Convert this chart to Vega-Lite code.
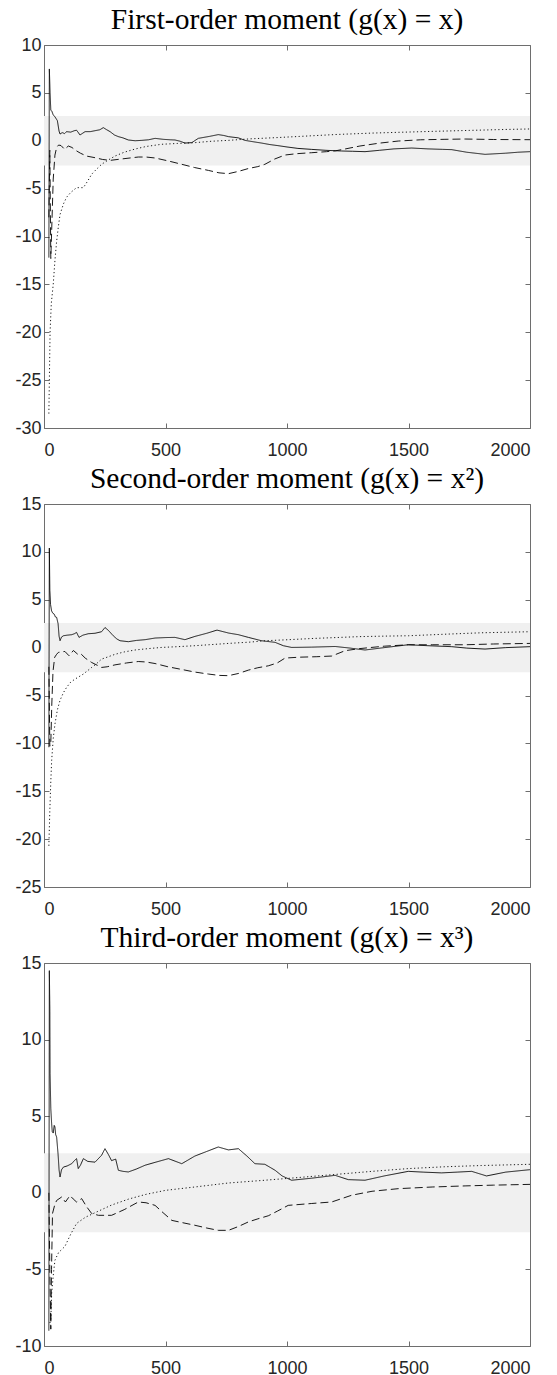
{
"$schema": "https://vega.github.io/schema/vega-lite/v6.json",
"padding": {"left": 14, "top": 4, "right": 5, "bottom": 0},
"spacing": 4,
"config": {
 "view": {"stroke": null},
 "axis": {"domainColor": "#6e6e6e", "tickColor": "#6e6e6e", "tickSize": -5, "grid": false, "labelFont": "Liberation Sans", "labelFontSize": 18, "labelColor": "#262626", "title": null, "labelExpr": "'' + datum.value"},
 "axisX": {"labelPadding": 18},
 "axisY": {"labelPadding": 8},
 "title": {"font": "Liberation Serif", "fontSize": 29.5, "fontWeight": "normal", "color": "#000000", "offset": 1}
},
"datasets": {"d": [
{"p":1,"s":"solid","n":20,"v":-12.2},{"p":1,"s":"solid","n":22,"v":7.5},{"p":1,"s":"solid","n":25,"v":5.0},{"p":1,"s":"solid","n":28,"v":3.2},{"p":1,"s":"solid","n":32,"v":3.1},{"p":1,"s":"solid","n":38,"v":2.7},{"p":1,"s":"solid","n":45,"v":2.5},{"p":1,"s":"solid","n":55,"v":2.1},{"p":1,"s":"solid","n":62,"v":1.0},{"p":1,"s":"solid","n":66,"v":0.7},{"p":1,"s":"solid","n":75,"v":0.85},{"p":1,"s":"solid","n":85,"v":0.75},{"p":1,"s":"solid","n":93,"v":0.95},{"p":1,"s":"solid","n":110,"v":0.9},{"p":1,"s":"solid","n":125,"v":1.05},{"p":1,"s":"solid","n":134,"v":1.1},{"p":1,"s":"solid","n":140,"v":0.9},{"p":1,"s":"solid","n":148,"v":0.6},{"p":1,"s":"solid","n":160,"v":0.8},{"p":1,"s":"solid","n":169,"v":0.95},{"p":1,"s":"solid","n":190,"v":0.95},{"p":1,"s":"solid","n":210,"v":1.05},{"p":1,"s":"solid","n":230,"v":1.15},{"p":1,"s":"solid","n":244,"v":1.37},{"p":1,"s":"solid","n":258,"v":1.15},{"p":1,"s":"solid","n":272,"v":0.95},{"p":1,"s":"solid","n":290,"v":0.6},{"p":1,"s":"solid","n":306,"v":0.43},{"p":1,"s":"solid","n":325,"v":0.3},{"p":1,"s":"solid","n":347,"v":0.08},{"p":1,"s":"solid","n":375,"v":0.0},{"p":1,"s":"solid","n":402,"v":0.04},{"p":1,"s":"solid","n":430,"v":0.1},{"p":1,"s":"solid","n":457,"v":0.25},{"p":1,"s":"solid","n":490,"v":0.15},{"p":1,"s":"solid","n":520,"v":0.1},{"p":1,"s":"solid","n":539,"v":0.08},{"p":1,"s":"solid","n":560,"v":-0.05},{"p":1,"s":"solid","n":580,"v":-0.24},{"p":1,"s":"solid","n":608,"v":-0.2},{"p":1,"s":"solid","n":635,"v":0.25},{"p":1,"s":"solid","n":680,"v":0.45},{"p":1,"s":"solid","n":717,"v":0.64},{"p":1,"s":"solid","n":740,"v":0.55},{"p":1,"s":"solid","n":759,"v":0.43},{"p":1,"s":"solid","n":800,"v":0.3},{"p":1,"s":"solid","n":827,"v":0.04},{"p":1,"s":"solid","n":860,"v":-0.1},{"p":1,"s":"solid","n":895,"v":-0.24},{"p":1,"s":"solid","n":930,"v":-0.4},{"p":1,"s":"solid","n":960,"v":-0.5},{"p":1,"s":"solid","n":1000,"v":-0.65},{"p":1,"s":"solid","n":1045,"v":-0.8},{"p":1,"s":"solid","n":1100,"v":-0.9},{"p":1,"s":"solid","n":1160,"v":-1.0},{"p":1,"s":"solid","n":1225,"v":-1.07},{"p":1,"s":"solid","n":1270,"v":-1.1},{"p":1,"s":"solid","n":1321,"v":-1.14},{"p":1,"s":"solid","n":1380,"v":-1.0},{"p":1,"s":"solid","n":1440,"v":-0.85},{"p":1,"s":"solid","n":1513,"v":-0.76},{"p":1,"s":"solid","n":1580,"v":-0.85},{"p":1,"s":"solid","n":1640,"v":-0.9},{"p":1,"s":"solid","n":1678,"v":-0.93},{"p":1,"s":"solid","n":1740,"v":-1.2},{"p":1,"s":"solid","n":1815,"v":-1.42},{"p":1,"s":"solid","n":1900,"v":-1.3},{"p":1,"s":"solid","n":1950,"v":-1.2},{"p":1,"s":"solid","n":2000,"v":-1.14},
{"p":1,"s":"dashed","n":20,"v":-8},{"p":1,"s":"dashed","n":24,"v":-1},{"p":1,"s":"dashed","n":28,"v":-12.3},{"p":1,"s":"dashed","n":32,"v":-9},{"p":1,"s":"dashed","n":38,"v":-4},{"p":1,"s":"dashed","n":45,"v":-1.5},{"p":1,"s":"dashed","n":52,"v":-0.7},{"p":1,"s":"dashed","n":60,"v":-0.45},{"p":1,"s":"dashed","n":70,"v":-0.5},{"p":1,"s":"dashed","n":85,"v":-0.9},{"p":1,"s":"dashed","n":100,"v":-0.55},{"p":1,"s":"dashed","n":115,"v":-0.7},{"p":1,"s":"dashed","n":130,"v":-1.0},{"p":1,"s":"dashed","n":150,"v":-1.3},{"p":1,"s":"dashed","n":175,"v":-1.6},{"p":1,"s":"dashed","n":210,"v":-1.77},{"p":1,"s":"dashed","n":240,"v":-1.95},{"p":1,"s":"dashed","n":272,"v":-2.05},{"p":1,"s":"dashed","n":320,"v":-1.9},{"p":1,"s":"dashed","n":388,"v":-1.7},{"p":1,"s":"dashed","n":420,"v":-1.7},{"p":1,"s":"dashed","n":457,"v":-1.8},{"p":1,"s":"dashed","n":510,"v":-2.1},{"p":1,"s":"dashed","n":567,"v":-2.46},{"p":1,"s":"dashed","n":620,"v":-2.8},{"p":1,"s":"dashed","n":677,"v":-3.1},{"p":1,"s":"dashed","n":720,"v":-3.35},{"p":1,"s":"dashed","n":759,"v":-3.44},{"p":1,"s":"dashed","n":800,"v":-3.2},{"p":1,"s":"dashed","n":841,"v":-2.9},{"p":1,"s":"dashed","n":880,"v":-2.7},{"p":1,"s":"dashed","n":909,"v":-2.46},{"p":1,"s":"dashed","n":950,"v":-1.9},{"p":1,"s":"dashed","n":992,"v":-1.49},{"p":1,"s":"dashed","n":1040,"v":-1.35},{"p":1,"s":"dashed","n":1100,"v":-1.25},{"p":1,"s":"dashed","n":1163,"v":-1.14},{"p":1,"s":"dashed","n":1200,"v":-1.05},{"p":1,"s":"dashed","n":1239,"v":-0.86},{"p":1,"s":"dashed","n":1300,"v":-0.55},{"p":1,"s":"dashed","n":1380,"v":-0.25},{"p":1,"s":"dashed","n":1458,"v":-0.03},{"p":1,"s":"dashed","n":1550,"v":0.1},{"p":1,"s":"dashed","n":1650,"v":0.15},{"p":1,"s":"dashed","n":1733,"v":0.18},{"p":1,"s":"dashed","n":1850,"v":0.13},{"p":1,"s":"dashed","n":2000,"v":0.11},
{"p":1,"s":"dotted","n":20,"v":-28.5},{"p":1,"s":"dotted","n":25,"v":-20},{"p":1,"s":"dotted","n":30,"v":-17},{"p":1,"s":"dotted","n":38,"v":-15},{"p":1,"s":"dotted","n":45,"v":-12.5},{"p":1,"s":"dotted","n":52,"v":-10.5},{"p":1,"s":"dotted","n":59,"v":-9},{"p":1,"s":"dotted","n":66,"v":-7.7},{"p":1,"s":"dotted","n":80,"v":-6.6},{"p":1,"s":"dotted","n":93,"v":-5.9},{"p":1,"s":"dotted","n":110,"v":-5.4},{"p":1,"s":"dotted","n":134,"v":-4.9},{"p":1,"s":"dotted","n":162,"v":-4.9},{"p":1,"s":"dotted","n":180,"v":-4.2},{"p":1,"s":"dotted","n":196,"v":-3.5},{"p":1,"s":"dotted","n":215,"v":-3.0},{"p":1,"s":"dotted","n":237,"v":-2.46},{"p":1,"s":"dotted","n":265,"v":-2.0},{"p":1,"s":"dotted","n":292,"v":-1.6},{"p":1,"s":"dotted","n":330,"v":-1.2},{"p":1,"s":"dotted","n":374,"v":-0.87},{"p":1,"s":"dotted","n":420,"v":-0.6},{"p":1,"s":"dotted","n":484,"v":-0.37},{"p":1,"s":"dotted","n":550,"v":-0.28},{"p":1,"s":"dotted","n":621,"v":-0.2},{"p":1,"s":"dotted","n":690,"v":-0.05},{"p":1,"s":"dotted","n":759,"v":0.04},{"p":1,"s":"dotted","n":850,"v":0.2},{"p":1,"s":"dotted","n":951,"v":0.32},{"p":1,"s":"dotted","n":1050,"v":0.45},{"p":1,"s":"dotted","n":1200,"v":0.65},{"p":1,"s":"dotted","n":1350,"v":0.8},{"p":1,"s":"dotted","n":1458,"v":0.88},{"p":1,"s":"dotted","n":1600,"v":0.98},{"p":1,"s":"dotted","n":1750,"v":1.08},{"p":1,"s":"dotted","n":1900,"v":1.18},{"p":1,"s":"dotted","n":2000,"v":1.23},
{"p":2,"s":"solid","n":20,"v":-10.4},{"p":2,"s":"solid","n":22,"v":10.4},{"p":2,"s":"solid","n":24,"v":6},{"p":2,"s":"solid","n":27,"v":4.5},{"p":2,"s":"solid","n":31,"v":3.85},{"p":2,"s":"solid","n":36,"v":3.6},{"p":2,"s":"solid","n":42,"v":3.5},{"p":2,"s":"solid","n":47,"v":3.2},{"p":2,"s":"solid","n":52,"v":3.16},{"p":2,"s":"solid","n":58,"v":2.5},{"p":2,"s":"solid","n":62,"v":1.2},{"p":2,"s":"solid","n":66,"v":0.72},{"p":2,"s":"solid","n":72,"v":1.1},{"p":2,"s":"solid","n":80,"v":1.24},{"p":2,"s":"solid","n":95,"v":1.3},{"p":2,"s":"solid","n":114,"v":1.35},{"p":2,"s":"solid","n":125,"v":1.45},{"p":2,"s":"solid","n":134,"v":1.59},{"p":2,"s":"solid","n":144,"v":1.07},{"p":2,"s":"solid","n":160,"v":1.3},{"p":2,"s":"solid","n":182,"v":1.45},{"p":2,"s":"solid","n":210,"v":1.5},{"p":2,"s":"solid","n":237,"v":1.66},{"p":2,"s":"solid","n":251,"v":2.1},{"p":2,"s":"solid","n":265,"v":1.8},{"p":2,"s":"solid","n":285,"v":1.24},{"p":2,"s":"solid","n":300,"v":0.9},{"p":2,"s":"solid","n":313,"v":0.72},{"p":2,"s":"solid","n":347,"v":0.62},{"p":2,"s":"solid","n":380,"v":0.75},{"p":2,"s":"solid","n":416,"v":0.83},{"p":2,"s":"solid","n":457,"v":1.0},{"p":2,"s":"solid","n":500,"v":1.05},{"p":2,"s":"solid","n":539,"v":1.07},{"p":2,"s":"solid","n":580,"v":0.83},{"p":2,"s":"solid","n":621,"v":1.17},{"p":2,"s":"solid","n":670,"v":1.5},{"p":2,"s":"solid","n":712,"v":1.83},{"p":2,"s":"solid","n":760,"v":1.52},{"p":2,"s":"solid","n":800,"v":1.35},{"p":2,"s":"solid","n":841,"v":1.07},{"p":2,"s":"solid","n":895,"v":0.72},{"p":2,"s":"solid","n":951,"v":0.55},{"p":2,"s":"solid","n":985,"v":0.2},{"p":2,"s":"solid","n":1019,"v":0.02},{"p":2,"s":"solid","n":1100,"v":0.05},{"p":2,"s":"solid","n":1198,"v":0.12},{"p":2,"s":"solid","n":1260,"v":-0.05},{"p":2,"s":"solid","n":1321,"v":-0.25},{"p":2,"s":"solid","n":1400,"v":0.0},{"p":2,"s":"solid","n":1499,"v":0.3},{"p":2,"s":"solid","n":1580,"v":0.2},{"p":2,"s":"solid","n":1678,"v":0.1},{"p":2,"s":"solid","n":1740,"v":-0.05},{"p":2,"s":"solid","n":1815,"v":-0.15},{"p":2,"s":"solid","n":1900,"v":0.0},{"p":2,"s":"solid","n":2000,"v":0.1},
{"p":2,"s":"dashed","n":20,"v":-2},{"p":2,"s":"dashed","n":24,"v":-10.3},{"p":2,"s":"dashed","n":28,"v":-10},{"p":2,"s":"dashed","n":32,"v":-6},{"p":2,"s":"dashed","n":37,"v":-2.5},{"p":2,"s":"dashed","n":44,"v":-1.0},{"p":2,"s":"dashed","n":52,"v":-0.7},{"p":2,"s":"dashed","n":59,"v":-0.5},{"p":2,"s":"dashed","n":70,"v":-0.45},{"p":2,"s":"dashed","n":86,"v":-0.4},{"p":2,"s":"dashed","n":103,"v":-0.85},{"p":2,"s":"dashed","n":121,"v":-0.3},{"p":2,"s":"dashed","n":141,"v":-0.74},{"p":2,"s":"dashed","n":152,"v":-0.65},{"p":2,"s":"dashed","n":170,"v":-1.1},{"p":2,"s":"dashed","n":196,"v":-1.55},{"p":2,"s":"dashed","n":237,"v":-2.07},{"p":2,"s":"dashed","n":260,"v":-2.0},{"p":2,"s":"dashed","n":292,"v":-1.8},{"p":2,"s":"dashed","n":340,"v":-1.6},{"p":2,"s":"dashed","n":388,"v":-1.45},{"p":2,"s":"dashed","n":420,"v":-1.5},{"p":2,"s":"dashed","n":457,"v":-1.66},{"p":2,"s":"dashed","n":510,"v":-2.0},{"p":2,"s":"dashed","n":567,"v":-2.28},{"p":2,"s":"dashed","n":620,"v":-2.55},{"p":2,"s":"dashed","n":677,"v":-2.76},{"p":2,"s":"dashed","n":720,"v":-2.9},{"p":2,"s":"dashed","n":759,"v":-2.93},{"p":2,"s":"dashed","n":800,"v":-2.7},{"p":2,"s":"dashed","n":841,"v":-2.35},{"p":2,"s":"dashed","n":880,"v":-2.1},{"p":2,"s":"dashed","n":923,"v":-1.9},{"p":2,"s":"dashed","n":960,"v":-1.6},{"p":2,"s":"dashed","n":992,"v":-1.09},{"p":2,"s":"dashed","n":1050,"v":-1.0},{"p":2,"s":"dashed","n":1120,"v":-0.95},{"p":2,"s":"dashed","n":1184,"v":-0.88},{"p":2,"s":"dashed","n":1239,"v":-0.32},{"p":2,"s":"dashed","n":1300,"v":-0.1},{"p":2,"s":"dashed","n":1400,"v":0.15},{"p":2,"s":"dashed","n":1499,"v":0.3},{"p":2,"s":"dashed","n":1600,"v":0.3},{"p":2,"s":"dashed","n":1733,"v":0.3},{"p":2,"s":"dashed","n":1850,"v":0.38},{"p":2,"s":"dashed","n":2000,"v":0.44},
{"p":2,"s":"dotted","n":20,"v":-20.7},{"p":2,"s":"dotted","n":24,"v":-17},{"p":2,"s":"dotted","n":28,"v":-14},{"p":2,"s":"dotted","n":31.5,"v":-11.8},{"p":2,"s":"dotted","n":38,"v":-9.5},{"p":2,"s":"dotted","n":45,"v":-8.0},{"p":2,"s":"dotted","n":55,"v":-6.5},{"p":2,"s":"dotted","n":66,"v":-5.5},{"p":2,"s":"dotted","n":80,"v":-4.7},{"p":2,"s":"dotted","n":93,"v":-4.15},{"p":2,"s":"dotted","n":110,"v":-3.6},{"p":2,"s":"dotted","n":128,"v":-3.28},{"p":2,"s":"dotted","n":162,"v":-2.76},{"p":2,"s":"dotted","n":196,"v":-2.07},{"p":2,"s":"dotted","n":215,"v":-1.7},{"p":2,"s":"dotted","n":237,"v":-1.2},{"p":2,"s":"dotted","n":265,"v":-0.95},{"p":2,"s":"dotted","n":292,"v":-0.7},{"p":2,"s":"dotted","n":330,"v":-0.45},{"p":2,"s":"dotted","n":374,"v":-0.25},{"p":2,"s":"dotted","n":430,"v":-0.1},{"p":2,"s":"dotted","n":484,"v":0.02},{"p":2,"s":"dotted","n":550,"v":0.1},{"p":2,"s":"dotted","n":621,"v":0.2},{"p":2,"s":"dotted","n":690,"v":0.32},{"p":2,"s":"dotted","n":759,"v":0.44},{"p":2,"s":"dotted","n":850,"v":0.58},{"p":2,"s":"dotted","n":909,"v":0.72},{"p":2,"s":"dotted","n":1000,"v":0.82},{"p":2,"s":"dotted","n":1100,"v":0.95},{"p":2,"s":"dotted","n":1200,"v":1.05},{"p":2,"s":"dotted","n":1300,"v":1.15},{"p":2,"s":"dotted","n":1400,"v":1.2},{"p":2,"s":"dotted","n":1500,"v":1.24},{"p":2,"s":"dotted","n":1650,"v":1.4},{"p":2,"s":"dotted","n":1800,"v":1.55},{"p":2,"s":"dotted","n":2000,"v":1.66},
{"p":3,"s":"solid","n":20,"v":-9},{"p":3,"s":"solid","n":22,"v":14.5},{"p":3,"s":"solid","n":24,"v":12},{"p":3,"s":"solid","n":25,"v":7.8},{"p":3,"s":"solid","n":28,"v":5.5},{"p":3,"s":"solid","n":31.5,"v":4.5},{"p":3,"s":"solid","n":34,"v":4.0},{"p":3,"s":"solid","n":38,"v":3.9},{"p":3,"s":"solid","n":42,"v":4.4},{"p":3,"s":"solid","n":45,"v":4.3},{"p":3,"s":"solid","n":48,"v":3.8},{"p":3,"s":"solid","n":52,"v":3.64},{"p":3,"s":"solid","n":58,"v":2.5},{"p":3,"s":"solid","n":62,"v":1.5},{"p":3,"s":"solid","n":66,"v":1.03},{"p":3,"s":"solid","n":72,"v":1.5},{"p":3,"s":"solid","n":80,"v":1.68},{"p":3,"s":"solid","n":95,"v":1.75},{"p":3,"s":"solid","n":114,"v":1.9},{"p":3,"s":"solid","n":125,"v":2.1},{"p":3,"s":"solid","n":134,"v":2.23},{"p":3,"s":"solid","n":141,"v":1.58},{"p":3,"s":"solid","n":150,"v":1.8},{"p":3,"s":"solid","n":162,"v":2.23},{"p":3,"s":"solid","n":180,"v":2.05},{"p":3,"s":"solid","n":210,"v":2.0},{"p":3,"s":"solid","n":237,"v":2.45},{"p":3,"s":"solid","n":251,"v":2.88},{"p":3,"s":"solid","n":265,"v":2.5},{"p":3,"s":"solid","n":278,"v":2.1},{"p":3,"s":"solid","n":295,"v":2.2},{"p":3,"s":"solid","n":306,"v":1.47},{"p":3,"s":"solid","n":325,"v":1.4},{"p":3,"s":"solid","n":347,"v":1.36},{"p":3,"s":"solid","n":380,"v":1.55},{"p":3,"s":"solid","n":416,"v":1.8},{"p":3,"s":"solid","n":460,"v":2.0},{"p":3,"s":"solid","n":512,"v":2.23},{"p":3,"s":"solid","n":567,"v":1.9},{"p":3,"s":"solid","n":621,"v":2.4},{"p":3,"s":"solid","n":670,"v":2.7},{"p":3,"s":"solid","n":717,"v":2.99},{"p":3,"s":"solid","n":759,"v":2.8},{"p":3,"s":"solid","n":800,"v":2.88},{"p":3,"s":"solid","n":835,"v":2.4},{"p":3,"s":"solid","n":868,"v":1.9},{"p":3,"s":"solid","n":909,"v":1.86},{"p":3,"s":"solid","n":951,"v":1.47},{"p":3,"s":"solid","n":980,"v":1.1},{"p":3,"s":"solid","n":1019,"v":0.82},{"p":3,"s":"solid","n":1100,"v":0.95},{"p":3,"s":"solid","n":1198,"v":1.14},{"p":3,"s":"solid","n":1252,"v":0.86},{"p":3,"s":"solid","n":1321,"v":0.82},{"p":3,"s":"solid","n":1400,"v":1.1},{"p":3,"s":"solid","n":1499,"v":1.4},{"p":3,"s":"solid","n":1560,"v":1.35},{"p":3,"s":"solid","n":1636,"v":1.3},{"p":3,"s":"solid","n":1700,"v":1.35},{"p":3,"s":"solid","n":1760,"v":1.4},{"p":3,"s":"solid","n":1821,"v":1.1},{"p":3,"s":"solid","n":1900,"v":1.35},{"p":3,"s":"solid","n":2000,"v":1.51},
{"p":3,"s":"dashed","n":20,"v":0},{"p":3,"s":"dashed","n":24,"v":-5},{"p":3,"s":"dashed","n":28,"v":-8.9},{"p":3,"s":"dashed","n":31,"v":-5},{"p":3,"s":"dashed","n":35,"v":-1.35},{"p":3,"s":"dashed","n":44,"v":-0.8},{"p":3,"s":"dashed","n":52,"v":-0.5},{"p":3,"s":"dashed","n":73,"v":-0.27},{"p":3,"s":"dashed","n":88,"v":-0.6},{"p":3,"s":"dashed","n":107,"v":-0.18},{"p":3,"s":"dashed","n":120,"v":-0.4},{"p":3,"s":"dashed","n":134,"v":-0.6},{"p":3,"s":"dashed","n":155,"v":-0.38},{"p":3,"s":"dashed","n":175,"v":-0.9},{"p":3,"s":"dashed","n":196,"v":-1.35},{"p":3,"s":"dashed","n":224,"v":-1.47},{"p":3,"s":"dashed","n":278,"v":-1.47},{"p":3,"s":"dashed","n":330,"v":-1.1},{"p":3,"s":"dashed","n":388,"v":-0.6},{"p":3,"s":"dashed","n":420,"v":-0.65},{"p":3,"s":"dashed","n":457,"v":-0.82},{"p":3,"s":"dashed","n":490,"v":-1.3},{"p":3,"s":"dashed","n":526,"v":-1.8},{"p":3,"s":"dashed","n":570,"v":-1.95},{"p":3,"s":"dashed","n":621,"v":-2.12},{"p":3,"s":"dashed","n":670,"v":-2.3},{"p":3,"s":"dashed","n":717,"v":-2.45},{"p":3,"s":"dashed","n":759,"v":-2.45},{"p":3,"s":"dashed","n":800,"v":-2.2},{"p":3,"s":"dashed","n":841,"v":-1.9},{"p":3,"s":"dashed","n":880,"v":-1.7},{"p":3,"s":"dashed","n":923,"v":-1.5},{"p":3,"s":"dashed","n":960,"v":-1.2},{"p":3,"s":"dashed","n":1005,"v":-0.82},{"p":3,"s":"dashed","n":1100,"v":-0.7},{"p":3,"s":"dashed","n":1184,"v":-0.6},{"p":3,"s":"dashed","n":1266,"v":-0.16},{"p":3,"s":"dashed","n":1350,"v":0.1},{"p":3,"s":"dashed","n":1458,"v":0.27},{"p":3,"s":"dashed","n":1600,"v":0.38},{"p":3,"s":"dashed","n":1733,"v":0.45},{"p":3,"s":"dashed","n":1850,"v":0.5},{"p":3,"s":"dashed","n":2000,"v":0.55},
{"p":3,"s":"dotted","n":24,"v":-8.5},{"p":3,"s":"dotted","n":28,"v":-8.3},{"p":3,"s":"dotted","n":31.5,"v":-6.57},{"p":3,"s":"dotted","n":38,"v":-5.4},{"p":3,"s":"dotted","n":45,"v":-4.4},{"p":3,"s":"dotted","n":60,"v":-3.9},{"p":3,"s":"dotted","n":86,"v":-3.5},{"p":3,"s":"dotted","n":110,"v":-2.7},{"p":3,"s":"dotted","n":134,"v":-2.0},{"p":3,"s":"dotted","n":170,"v":-1.6},{"p":3,"s":"dotted","n":210,"v":-1.3},{"p":3,"s":"dotted","n":278,"v":-0.8},{"p":3,"s":"dotted","n":350,"v":-0.4},{"p":3,"s":"dotted","n":420,"v":-0.1},{"p":3,"s":"dotted","n":500,"v":0.16},{"p":3,"s":"dotted","n":621,"v":0.38},{"p":3,"s":"dotted","n":759,"v":0.64},{"p":3,"s":"dotted","n":909,"v":0.82},{"p":3,"s":"dotted","n":1050,"v":1.0},{"p":3,"s":"dotted","n":1200,"v":1.2},{"p":3,"s":"dotted","n":1350,"v":1.4},{"p":3,"s":"dotted","n":1499,"v":1.58},{"p":3,"s":"dotted","n":1650,"v":1.7},{"p":3,"s":"dotted","n":1800,"v":1.78},{"p":3,"s":"dotted","n":2000,"v":1.86}
]},
"vconcat": [
{"width": 486, "height": 383, "title": "First-order moment (g(x) = x)",
 "layer": [
  {"data": {"values": [{"a": 0, "b": 2000, "lo": -2.576, "hi": 2.576}]},
   "mark": {"type": "rect", "color": "#f0f0f0"},
   "encoding": {
    "x": {"field": "a", "type": "quantitative", "scale": {"domain": [0, 2000], "nice": false}, "axis": {"orient": "top", "labels": false, "values": [0, 500, 1000, 1500, 2000]}},
    "x2": {"field": "b"},
    "y": {"field": "lo", "type": "quantitative", "scale": {"domain": [-30, 10], "nice": false}, "axis": {"orient": "right", "labels": false, "values": [-30, -25, -20, -15, -10, -5, 0, 5, 10]}},
    "y2": {"field": "hi"}}},
  {"data": {"name": "d"}, "transform": [{"filter": "datum.p == 1"}],
   "mark": {"type": "line", "color": "#000000", "strokeWidth": 0.9},
   "encoding": {
    "x": {"field": "n", "type": "quantitative", "scale": {"domain": [0, 2000], "nice": false}, "axis": {"orient": "bottom", "values": [0, 500, 1000, 1500, 2000]}},
    "y": {"field": "v", "type": "quantitative", "scale": {"domain": [-30, 10], "nice": false}, "axis": {"orient": "left", "values": [-30, -25, -20, -15, -10, -5, 0, 5, 10]}},
    "strokeDash": {"field": "s", "type": "nominal", "scale": {"domain": ["solid", "dashed", "dotted"], "range": [[1, 0], [8, 4], [1.2, 2.5]]}, "legend": null}}}
 ]},
{"width": 486, "height": 383, "title": "Second-order moment (g(x) = x²)",
 "layer": [
  {"data": {"values": [{"a": 0, "b": 2000, "lo": -2.576, "hi": 2.576}]},
   "mark": {"type": "rect", "color": "#f0f0f0"},
   "encoding": {
    "x": {"field": "a", "type": "quantitative", "scale": {"domain": [0, 2000], "nice": false}, "axis": {"orient": "top", "labels": false, "values": [0, 500, 1000, 1500, 2000]}},
    "x2": {"field": "b"},
    "y": {"field": "lo", "type": "quantitative", "scale": {"domain": [-25, 15], "nice": false}, "axis": {"orient": "right", "labels": false, "values": [-25, -20, -15, -10, -5, 0, 5, 10, 15]}},
    "y2": {"field": "hi"}}},
  {"data": {"name": "d"}, "transform": [{"filter": "datum.p == 2"}],
   "mark": {"type": "line", "color": "#000000", "strokeWidth": 0.9},
   "encoding": {
    "x": {"field": "n", "type": "quantitative", "scale": {"domain": [0, 2000], "nice": false}, "axis": {"orient": "bottom", "values": [0, 500, 1000, 1500, 2000]}},
    "y": {"field": "v", "type": "quantitative", "scale": {"domain": [-25, 15], "nice": false}, "axis": {"orient": "left", "values": [-25, -20, -15, -10, -5, 0, 5, 10, 15]}},
    "strokeDash": {"field": "s", "type": "nominal", "scale": {"domain": ["solid", "dashed", "dotted"], "range": [[1, 0], [8, 4], [1.2, 2.5]]}, "legend": null}}}
 ]},
{"width": 486, "height": 383, "title": "Third-order moment (g(x) = x³)",
 "layer": [
  {"data": {"values": [{"a": 0, "b": 2000, "lo": -2.576, "hi": 2.576}]},
   "mark": {"type": "rect", "color": "#f0f0f0"},
   "encoding": {
    "x": {"field": "a", "type": "quantitative", "scale": {"domain": [0, 2000], "nice": false}, "axis": {"orient": "top", "labels": false, "values": [0, 500, 1000, 1500, 2000]}},
    "x2": {"field": "b"},
    "y": {"field": "lo", "type": "quantitative", "scale": {"domain": [-10, 15], "nice": false}, "axis": {"orient": "right", "labels": false, "values": [-10, -5, 0, 5, 10, 15]}},
    "y2": {"field": "hi"}}},
  {"data": {"name": "d"}, "transform": [{"filter": "datum.p == 3"}],
   "mark": {"type": "line", "color": "#000000", "strokeWidth": 0.9},
   "encoding": {
    "x": {"field": "n", "type": "quantitative", "scale": {"domain": [0, 2000], "nice": false}, "axis": {"orient": "bottom", "values": [0, 500, 1000, 1500, 2000]}},
    "y": {"field": "v", "type": "quantitative", "scale": {"domain": [-10, 15], "nice": false}, "axis": {"orient": "left", "values": [-10, -5, 0, 5, 10, 15]}},
    "strokeDash": {"field": "s", "type": "nominal", "scale": {"domain": ["solid", "dashed", "dotted"], "range": [[1, 0], [8, 4], [1.2, 2.5]]}, "legend": null}}}
 ]}
]
}
